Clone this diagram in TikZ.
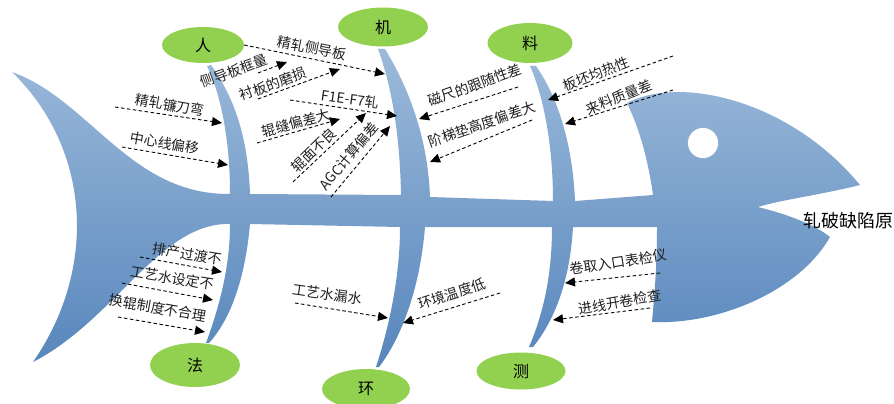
\documentclass[tikz,border=0pt]{standalone}
\usepackage{fontspec}
\newfontfamily\cjk{Noto Sans CJK SC}
\usetikzlibrary{arrows.meta,shapes.geometric}
\definecolor{fishtop}{HTML}{9CBADA}
\definecolor{fishmid}{HTML}{7FA5CC}
\definecolor{fishbot}{HTML}{5786BC}
\definecolor{leaf}{HTML}{92D050}
\tikzset{
  cause/.style={font=\cjk\fontsize{14}{14}\selectfont, inner sep=0pt, text=black!88},
  group/.style={ellipse, fill=leaf, font=\cjk\fontsize{16}{16}\selectfont, inner sep=0pt},
  dasharrow/.style={dash pattern=on 3.5pt off 2.5pt, line width=0.9pt,
    -{Triangle[length=10pt,width=9pt]}}
}
\begin{document}
\begin{tikzpicture}[x=1pt,y=-1pt]
\useasboundingbox (0,0) rectangle (894,404);

% fish body: tail, spine, six bones and head as one outline
\shade[top color=fishtop, middle color=fishmid, bottom color=fishbot]
 (12,72) .. controls (90,100) and (130,195) .. (230,194)
 .. controls (230,140) and (221,95) .. (207,66)
 -- (211,65)
 .. controls (236,100) and (248,140) .. (250,194)
 -- (401,195)
 .. controls (400,140) and (393,90) .. (378,49)
 -- (385,49)
 .. controls (410,90) and (428,140) .. (430,197)
 -- (553,201)
 .. controls (553,150) and (545,100) .. (530,66)
 -- (536,66)
 .. controls (560,100) and (573,150) .. (575,201)
 -- (653,195)
 .. controls (648,160) and (640,130) .. (627,103)
 .. controls (680,75) and (790,100) .. (860,185)
 .. controls (820,195) and (780,200) .. (758,207)
 .. controls (790,215) and (815,225) .. (830,237)
 .. controls (800,290) and (720,325) .. (652,322)
 .. controls (655,290) and (657,260) .. (657,227)
 -- (573,227)
 .. controls (570,280) and (555,320) .. (533,347)
 -- (529,347)
 .. controls (545,310) and (552,270) .. (552,227)
 -- (425,227)
 .. controls (420,290) and (400,340) .. (379,367)
 -- (376,367)
 .. controls (388,330) and (400,280) .. (400,227)
 -- (250,224)
 .. controls (245,280) and (230,320) .. (209,343)
 -- (206,343)
 .. controls (218,310) and (230,270) .. (230,224)
 .. controls (160,222) and (115,320) .. (33,362)
 .. controls (97,270) and (92,150) .. (12,72)
 -- cycle;

% eye
\filldraw[fill=white, draw=fishbot!70, line width=0.6pt] (703,143) circle (15.5);

% category ellipses
\node[group, minimum width=82pt, minimum height=36pt] (ren)  at (203,45)  {人};
\node[group, minimum width=90pt, minimum height=39pt] (ji)   at (383,27)  {机};
\node[group, minimum width=85pt, minimum height=40pt] (liao) at (530,43)  {料};
\node[group, minimum width=90pt, minimum height=44pt] (fa)   at (195,365) {法};
\node[group, minimum width=88pt, minimum height=40pt] (huan) at (366,389) {环};
\node[group, minimum width=89pt, minimum height=37pt] (ce)   at (521,371) {测};

% effect label
\node[font=\cjk\fontsize{18}{18}\selectfont, inner sep=0pt] (effect) at (848,221) {轧破缺陷原};

% cause labels
\node[cause, rotate=-11] (c1)  at (312,48)  {精轧侧导板};
\node[cause, rotate=20]  (c2)  at (234,71)  {侧导板框量};
\node[cause, rotate=20]  (c3)  at (273,84)  {衬板的磨损};
\node[cause, rotate=-10] (c4)  at (170,105) {精轧镰刀弯};
\node[cause, rotate=-10] (c5)  at (165,143) {中心线偏移};
\node[cause, rotate=-8]  (c6)  at (350,99)  {F1E-F7轧};
\node[cause, rotate=15]  (c7)  at (296,123) {辊缝偏差大};
\node[cause, rotate=44]  (c8)  at (314,150) {辊面不良};
\node[cause, rotate=50]  (c9)  at (349,156) {AGC计算偏差};
\node[cause, rotate=20]  (c10) at (475,85)  {磁尺的跟随性差};
\node[cause, rotate=19]  (c11) at (482,124) {阶梯垫高度偏差大};
\node[cause, rotate=21]  (c12) at (596,74)  {板坯均热性};
\node[cause, rotate=22]  (c13) at (619,97)  {来料质量差};
\node[cause, rotate=-9]  (c14) at (187,254) {排产过渡不};
\node[cause, rotate=-9]  (c15) at (172,278) {工艺水设定不};
\node[cause, rotate=-10] (c16) at (158,308) {换辊制度不合理};
\node[cause, rotate=-8]  (c17) at (327,294) {工艺水漏水};
\node[cause, rotate=18]  (c18) at (452,294) {环境温度低};
\node[cause, rotate=9]   (c19) at (618,262) {卷取入口表检仪};
\node[cause, rotate=10]  (c20) at (620,302) {进线开卷检查};

% arrow end points
\coordinate (e1)  at (385,74);
\coordinate (s2)  at (258,73);   \coordinate (e2)  at (287,62);
\coordinate (s3)  at (258,99);   \coordinate (e3)  at (340,69);
\coordinate (s4)  at (115,107);  \coordinate (e4)  at (222,123);
\coordinate (s5)  at (122,147);  \coordinate (e5)  at (228,165);
\coordinate (s6)  at (290,100);  \coordinate (e6)  at (397,116);
\coordinate (s7)  at (257,143);  \coordinate (e7)  at (340,119);
\coordinate (s8)  at (293,182);  \coordinate (e8)  at (366,113);
\coordinate (s9)  at (331,197);  \coordinate (e9)  at (390,126);
\coordinate (s10) at (518,87);   \coordinate (e10) at (419,119);
\coordinate (s11) at (532,120);  \coordinate (e11) at (430,162);
\coordinate (s12) at (673,56);   \coordinate (e12) at (548,100);
\coordinate (s13) at (673,90);   \coordinate (e13) at (565,124);
\coordinate (s14) at (140,257);  \coordinate (e14) at (222,272);
\coordinate (s15) at (122,283);  \coordinate (e15) at (213,300);
\coordinate (s16) at (118,317);  \coordinate (e16) at (205,332);
\coordinate (s17) at (295,303);  \coordinate (e17) at (388,318);
\coordinate (s18) at (500,293);  \coordinate (e18) at (403,323);
\coordinate (s19) at (660,273);  \coordinate (e19) at (565,283);
\coordinate (s20) at (650,308);  \coordinate (e20) at (553,320);

% dashed cause arrows
\draw[dasharrow] (ren.east) -- (e1);
\foreach \i in {2,...,20} { \draw[dasharrow] (s\i) -- (e\i); }
\end{tikzpicture}
\end{document}
